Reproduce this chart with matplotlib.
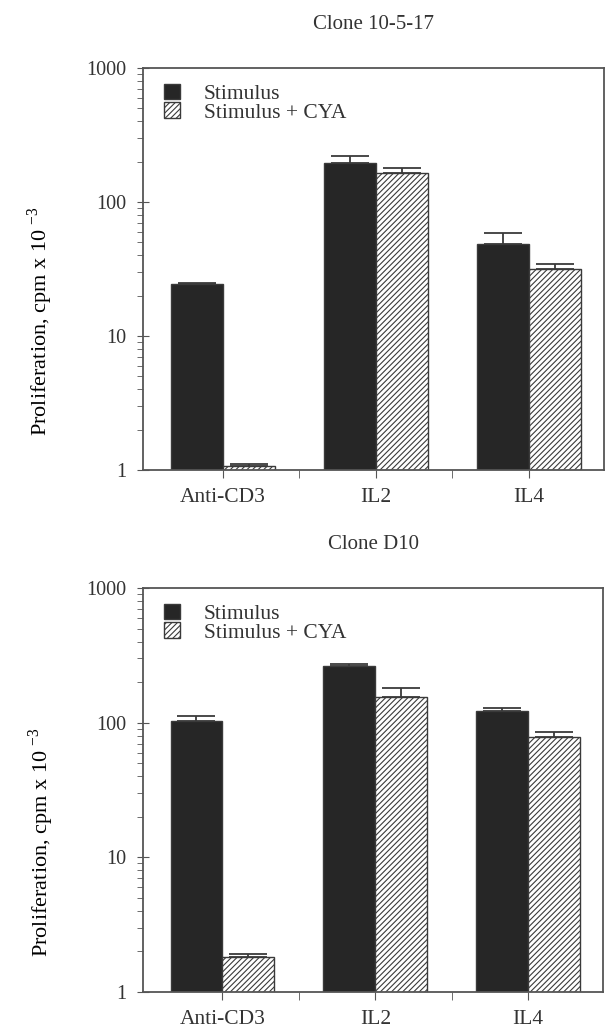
import numpy as np
import matplotlib.pyplot as plt
import matplotlib as mpl
from matplotlib.ticker import LogLocator, FixedLocator, NullFormatter, FuncFormatter

# === DATA ===
categories = ["Anti-CD3", "IL2", "IL4"]
titles = ["Clone 10-5-17", "Clone D10"]

stim_1017 = [24.4, 195, 48.6]
stim_err_1017 = [0.6, 25, 10]
cya_1017 = [1.07, 165, 31.6]
cya_err_1017 = [0.03, 14, 3]

stim_d10 = [103, 263, 122]
stim_err_d10 = [9, 9, 6]
cya_d10 = [1.82, 155, 78]
cya_err_d10 = [0.10, 26, 7]

# ───── Style global ─────
mpl.rcParams.update({
    "font.family": ["Liberation Serif", "DejaVu Serif"],
    "mathtext.fontset": "custom",
    "mathtext.rm": "Liberation Serif",
    "font.size": 12,
    "hatch.linewidth": 0.8,
    "axes.edgecolor": "#555555",
    "axes.linewidth": 1.3,
    "text.color": "#333333",
    "xtick.labelcolor": "#333333",
    "ytick.labelcolor": "#333333",
})

BAR_COLOR = "#262626"
EDGE = "#3a3a3a"
WIDTH = 0.34


def draw_panel(ax, title, stim, stim_err, cya, cya_err):
    x = np.arange(len(categories))
    ax.bar(x - WIDTH / 2, stim, WIDTH, color=BAR_COLOR, edgecolor=EDGE,
           linewidth=1, label="Stimulus", zorder=2)
    ax.bar(x + WIDTH / 2, cya, WIDTH, color="white", edgecolor=EDGE,
           hatch="//////", linewidth=1, label="Stimulus + CYA", zorder=2)
    ax.errorbar(x - WIDTH / 2, stim, yerr=[np.zeros(3), stim_err], fmt="none",
                ecolor=EDGE, elinewidth=1.3, capsize=14, capthick=1.3, zorder=3)
    ax.errorbar(x + WIDTH / 2, cya, yerr=[np.zeros(3), cya_err], fmt="none",
                ecolor=EDGE, elinewidth=1.3, capsize=14, capthick=1.3, zorder=3)

    ax.set_yscale("log")
    ax.set_ylim(1, 1000)
    ax.set_xlim(-0.52, 2.49)
    ax.yaxis.set_major_formatter(FuncFormatter(lambda v, p: f"{int(v)}"))
    ax.yaxis.set_minor_locator(LogLocator(base=10, subs=np.arange(2, 10)))
    ax.yaxis.set_minor_formatter(NullFormatter())
    ax.tick_params(axis="y", which="major", direction="inout", length=8,
                   labelsize=14.5, color="#555555", pad=8)
    ax.tick_params(axis="y", which="minor", direction="out", length=4,
                   color="#555555")

    ax.set_xticks(x)
    ax.set_xticklabels(categories)
    ax.xaxis.set_minor_locator(FixedLocator([0.5, 1.5]))
    ax.tick_params(axis="x", which="both", direction="out", length=6,
                   labelsize=15.5, color="#555555", pad=7)

    ax.set_ylabel("Proliferation, cpm x 10$^{\\ \\mathrm{-3}}$", fontsize=16)
    ax.yaxis.set_label_coords(-0.19, 0.37)
    ax.set_title(title, fontsize=15, pad=28)

    ax.legend(loc="upper left", frameon=False, fontsize=15.5,
              handlelength=0.75, handleheight=0.7, handletextpad=1.1,
              labelspacing=-0.08, borderaxespad=0.35,
              bbox_to_anchor=(0.01, 1.0))


fig = plt.figure(figsize=(6.08, 10.33), dpi=100)
ax1 = fig.add_axes([143 / 608, 1 - 470 / 1033, 461 / 608, 402 / 1033])
ax2 = fig.add_axes([143 / 608, 1 - 992 / 1033, 460 / 608, 404 / 1033])

draw_panel(ax1, titles[0], stim_1017, stim_err_1017, cya_1017, cya_err_1017)
draw_panel(ax2, titles[1], stim_d10, stim_err_d10, cya_d10, cya_err_d10)

fig.savefig("out.png", dpi=100)
